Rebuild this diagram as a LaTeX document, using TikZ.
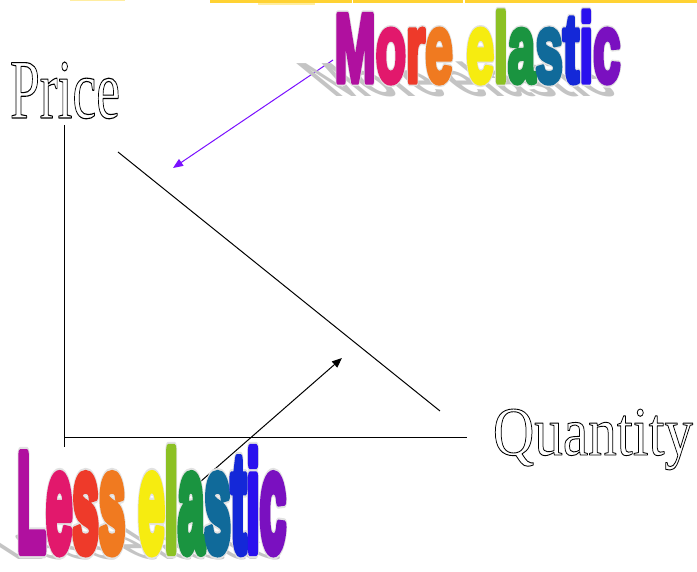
\documentclass[tikz,border=0pt]{standalone}
\usepackage{fontspec}
\setmainfont{Liberation Serif}
\newfontfamily\wordart{Liberation Sans}[BoldFont={* Bold}]
\usetikzlibrary{arrows.meta}
\definecolor{cA}{HTML}{B0109F}
\definecolor{cB}{HTML}{E2186C}
\definecolor{cC}{HTML}{EE3A2A}
\definecolor{cD}{HTML}{F07A20}
\definecolor{cE}{HTML}{F6EC10}
\definecolor{cF}{HTML}{8CC124}
\definecolor{cG}{HTML}{1A9440}
\definecolor{cH}{HTML}{106A9A}
\definecolor{cI}{HTML}{1428D8}
\definecolor{cJ}{HTML}{2A10EE}
\definecolor{cK}{HTML}{7A10C0}
\definecolor{shadowgray}{HTML}{C4C4C4}
\definecolor{halogray}{HTML}{E2E2E2}
\definecolor{violetarrow}{HTML}{7A10FF}
\definecolor{bandA}{HTML}{FFD233}
\definecolor{bandB}{HTML}{FFEDA0}
\newcommand{\outlined}[1]{\special{pdf:literal direct 1 Tr 0.13 w 1 j}#1\special{pdf:literal direct 0 Tr 0 j}}
\newcommand{\heavy}[2]{\special{pdf:literal direct 2 Tr #1 w 1 j}#2\special{pdf:literal direct 0 Tr 0 j}}
\newcommand{\moretext}[1]{{\wordart\bfseries #1}}
\newcommand{\rainbowMore}{\moretext{\textcolor{cA}{M}\textcolor{cB}{o}\textcolor{cC}{r}\textcolor{cD}{e} \textcolor{cE}{e}\textcolor{cF}{l}\textcolor{cG}{a}\textcolor{cH}{s}\textcolor{cI}{t}\textcolor{cJ}{i}\textcolor{cK}{c}}}
\newcommand{\rainbowLess}{\moretext{\textcolor{cA}{L}\textcolor{cB}{e}\textcolor{cC}{s}\textcolor{cD}{s} \textcolor{cE}{e}\textcolor{cF}{l}\textcolor{cG}{a}\textcolor{cH}{s}\textcolor{cI}{t}\textcolor{cJ}{i}\textcolor{cK}{c}}}
\begin{document}
\begin{tikzpicture}[x=1pt,y=1pt,
  axisline/.style={line width=1pt,black},
  arrowline/.style={line width=1pt,-{Triangle[length=10pt,width=8pt]}},
  lbl/.style={anchor=base west,inner sep=0pt,outer sep=0pt}]
\useasboundingbox (0,0) rectangle (697,572);
\fill[white] (0,0) rectangle (697,572);
% top band
\fill[bandB] (70,571) rectangle (125,572);
\fill[bandA] (210,569) rectangle (352,572);
\fill[bandB] (258,567) rectangle (315,569);
\fill[bandA] (353,568.5) rectangle (463,572);
\fill[bandA] (465,569) rectangle (697,572);
% axes
\coordinate (yTop) at (64,447);
\coordinate (yBot) at (64,125);
\coordinate (xL) at (64,134.5);
\coordinate (xR) at (467,134.5);
\draw[axisline] (yTop) -- (yBot);
\draw[axisline] (xL) -- (xR);
% demand line
\coordinate (dA) at (118,420);
\coordinate (dB) at (440,161);
\draw[axisline] (dA) -- (dB);
% arrows
\coordinate (mS) at (333,512);
\coordinate (mE) at (173,404);
\draw[arrowline,violetarrow] (mS) -- (mE);
\coordinate (lS) at (200,90);
\coordinate (lE) at (342,214);
\draw[arrowline,black] (lS) -- (lE);
% axis labels
\node[lbl] (price) at (10,454) {\resizebox{110pt}{56pt}{\outlined{Price}}};
\node[lbl] (qty) at (493,117) {\resizebox{200pt}{46pt}{\outlined{Quantity}}};
% shadows
\begin{scope}[shift={(333,475)},cm={1,0,-0.55,0.45,(0,0)}]
\node[lbl,transform shape,text=shadowgray] (moreShadow) at (0,0) {\resizebox{289pt}{77pt}{\moretext{More elastic}}};
\end{scope}
\begin{scope}[shift={(15,12)},cm={1,0,-0.45,0.29,(0,0)}]
\node[lbl,transform shape,text=shadowgray] (lessShadow) at (0,0) {\resizebox{273pt}{114pt}{\moretext{Less elastic}}};
\end{scope}
% wordart halo
\node[lbl,text=halogray] (moreHalo) at (334.5,490.2) {\resizebox{286pt}{70.5pt}{\heavy{0.9}{\moretext{More elastic}}}};
\node[lbl,text=halogray] (lessHalo) at (17,21.4) {\resizebox{269pt}{101pt}{\heavy{1.1}{\moretext{Less elastic}}}};
% wordart
\node[lbl] (more) at (334.5,490.2) {\resizebox{286pt}{70.5pt}{\heavy{0.6}{\rainbowMore}}};
\node[lbl] (less) at (17,21.4) {\resizebox{269pt}{101pt}{\heavy{0.8}{\rainbowLess}}};
\end{tikzpicture}
\end{document}
